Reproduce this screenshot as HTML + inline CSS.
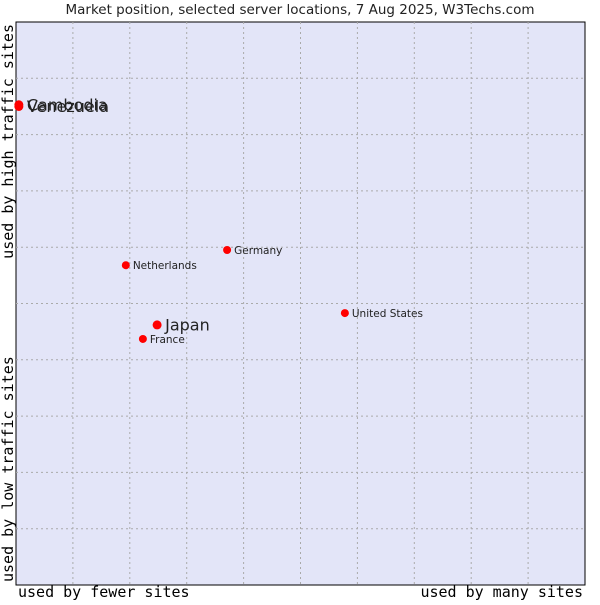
<!DOCTYPE html>
<html><head><meta charset="utf-8"><style>
body{margin:0;background:#fff;width:600px;height:600px;overflow:hidden}
svg text{font-family:"DejaVu Sans",sans-serif;fill:#222}
.mono{font-family:"DejaVu Sans Mono",monospace;font-size:15px;fill:#000}
</style></head><body>
<svg id="chart" width="600" height="600" xmlns="http://www.w3.org/2000/svg">
<text x="300" y="14" text-anchor="middle" font-size="13.5">Market position, selected server locations, 7 Aug 2025, W3Techs.com</text>
<rect x="16" y="22" width="569" height="563" fill="#e3e5f8" stroke="#000" stroke-width="1"/>
<g id="grid"></g>
<g id="points"></g>
<text class="mono" x="18" y="597">used by fewer sites</text>
<text class="mono" x="583" y="597" text-anchor="end">used by many sites</text>
<text class="mono" transform="translate(13,24) rotate(-90)" text-anchor="end">used by high traffic sites</text>
<text class="mono" transform="translate(13,582) rotate(-90)">used by low traffic sites</text>
</svg>
<script>
const names=["Cambodia","Venezuela","Netherlands","Germany","United States","Japan","France"];
const xs=[0.5,0.5,19.3,37.1,57.8,24.8,22.3];
const ys=[85.3,85.0,56.8,59.5,48.3,46.2,43.7];
const big=[true,true,false,false,false,true,false];
const X0=16,X1=585,Y0=585,Y1=22;
const sx=v=>X0+(X1-X0)*v/100, sy=v=>Y0-(Y0-Y1)*v/100;
const NS="http://www.w3.org/2000/svg";
const g=document.getElementById('grid');
for(let i=1;i<10;i++){
 let l=document.createElementNS(NS,'line');
 
 
 l.setAttribute('x1',sx(i*10));l.setAttribute('x2',sx(i*10));l.setAttribute('y1',Y1);l.setAttribute('y2',Y0);
 l.setAttribute('stroke','#aaa');l.setAttribute('stroke-dasharray','2,3');g.appendChild(l);
 let h=document.createElementNS(NS,'line');
 
 
 h.setAttribute('y1',sy(i*10));h.setAttribute('y2',sy(i*10));h.setAttribute('x1',X0);h.setAttribute('x2',X1);
 h.setAttribute('stroke','#aaa');h.setAttribute('stroke-dasharray','2,3');g.appendChild(h);
}
const p=document.getElementById('points');
names.forEach((n,i)=>{
 const cx=sx(xs[i]),cy=sy(ys[i]);
 let c=document.createElementNS(NS,'circle');
 
 
 c.setAttribute('cx',cx);c.setAttribute('cy',cy);c.setAttribute('r',big[i]?4.5:4);c.setAttribute('fill','#f00');p.appendChild(c);
 let t=document.createElementNS(NS,'text');
 
 
 t.setAttribute('x',cx+(big[i]?8:7));t.setAttribute('y',cy+(big[i]?5.5:4));
 t.setAttribute('font-size',big[i]?16:10.5);t.textContent=n;p.appendChild(t);
});
</script>
</body></html>
